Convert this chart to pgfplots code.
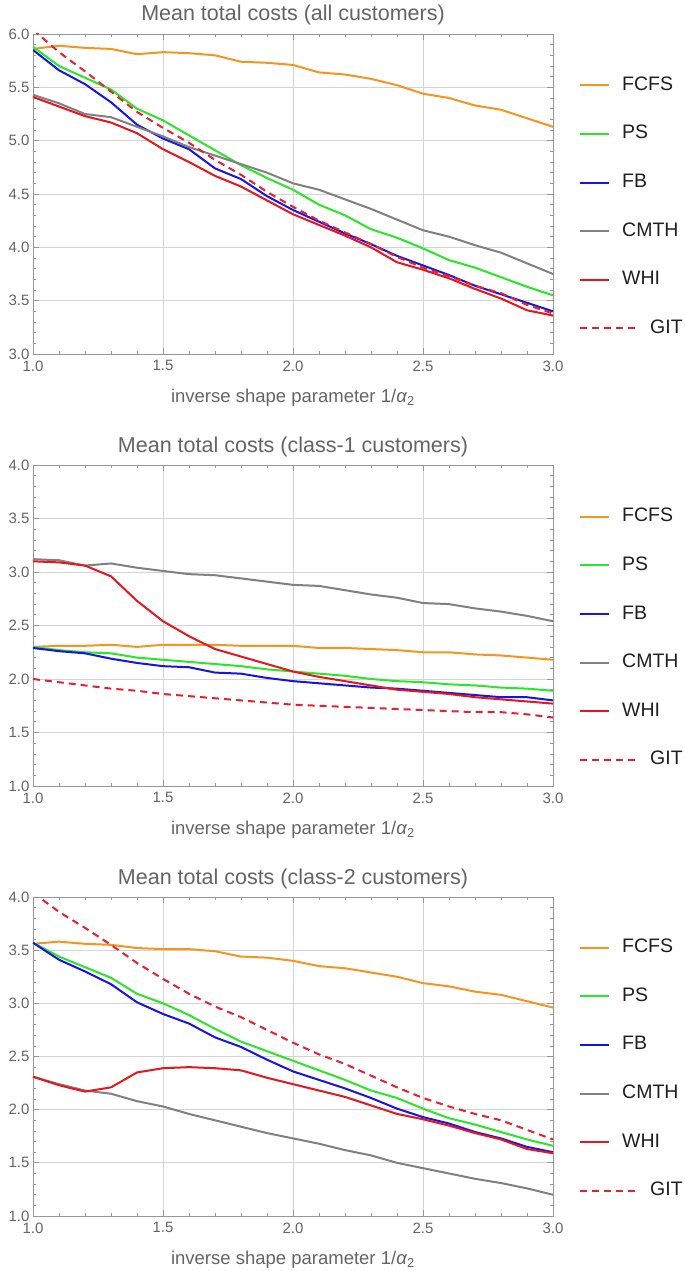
\documentclass[border=0pt]{standalone}
\usepackage{fontspec}
\setmainfont{Liberation Sans}
\usepackage{pgfplots}
\usepackage{pgfplotstable}
\pgfplotsset{compat=1.18}

\definecolor{cFCFS}{RGB}{247,148,30}
\definecolor{cPS}{RGB}{40,230,40}
\definecolor{cFB}{RGB}{20,20,230}
\definecolor{cCMTH}{RGB}{128,128,128}
\definecolor{cWHI}{RGB}{232,20,30}
\definecolor{cGIT}{RGB}{232,30,50}
\definecolor{frame}{RGB}{150,150,150}
\definecolor{gridc}{RGB}{212,212,212}
\definecolor{labc}{RGB}{100,100,100}

% x  FCFS  PS  FB  CMTH  WHI  GIT
\pgfplotstableread{
x   fcfs ps   fb   cmth whi  git
1.0 5.86 5.88 5.85 5.43 5.41 6.04
1.1 5.89 5.70 5.66 5.35 5.32 5.83
1.2 5.87 5.59 5.53 5.25 5.23 5.65
1.3 5.86 5.48 5.36 5.22 5.17 5.46
1.4 5.81 5.30 5.15 5.13 5.07 5.27
1.5 5.83 5.19 5.02 5.04 4.92 5.12
1.6 5.82 5.05 4.92 4.94 4.80 4.98
1.7 5.80 4.91 4.74 4.86 4.67 4.82
1.8 5.74 4.77 4.64 4.78 4.57 4.68
1.9 5.73 4.65 4.48 4.70 4.44 4.52
2.0 5.71 4.54 4.35 4.60 4.31 4.38
2.1 5.64 4.40 4.24 4.54 4.21 4.25
2.2 5.62 4.30 4.13 4.45 4.11 4.14
2.3 5.58 4.17 4.03 4.36 4.00 4.03
2.4 5.52 4.09 3.92 4.26 3.86 3.91
2.5 5.44 3.99 3.83 4.16 3.79 3.81
2.6 5.40 3.88 3.74 4.10 3.71 3.73
2.7 5.33 3.81 3.64 4.02 3.61 3.64
2.8 5.29 3.72 3.56 3.95 3.52 3.57
2.9 5.21 3.63 3.48 3.85 3.41 3.46
3.0 5.13 3.55 3.40 3.75 3.36 3.38
}\tabAll

\pgfplotstableread{
x   fcfs ps   fb   cmth whi  git
1.0 2.30 2.30 2.29 3.12 3.10 2.00
1.1 2.31 2.27 2.26 3.11 3.09 1.97
1.2 2.31 2.25 2.24 3.06 3.06 1.94
1.3 2.32 2.24 2.19 3.08 2.96 1.91
1.4 2.30 2.20 2.15 3.04 2.73 1.89
1.5 2.32 2.18 2.12 3.01 2.54 1.86
1.6 2.32 2.16 2.11 2.98 2.40 1.84
1.7 2.32 2.14 2.06 2.97 2.28 1.82
1.8 2.31 2.12 2.05 2.94 2.21 1.80
1.9 2.31 2.09 2.01 2.91 2.14 1.78
2.0 2.31 2.07 1.98 2.88 2.07 1.76
2.1 2.29 2.05 1.96 2.87 2.02 1.75
2.2 2.29 2.03 1.94 2.83 1.98 1.74
2.3 2.28 2.00 1.92 2.79 1.94 1.73
2.4 2.27 1.98 1.91 2.76 1.90 1.72
2.5 2.25 1.97 1.89 2.71 1.88 1.71
2.6 2.25 1.95 1.87 2.70 1.86 1.70
2.7 2.23 1.94 1.85 2.66 1.83 1.69
2.8 2.22 1.92 1.83 2.63 1.81 1.69
2.9 2.20 1.91 1.83 2.59 1.79 1.67
3.0 2.18 1.89 1.80 2.54 1.77 1.64
}\tabOne

\pgfplotstableread{
x   fcfs ps   fb   cmth whi  git
1.0 3.56 3.57 3.57 2.31 2.31 4.04
1.1 3.58 3.44 3.41 2.24 2.23 3.86
1.2 3.56 3.34 3.30 2.18 2.17 3.71
1.3 3.55 3.24 3.18 2.15 2.21 3.55
1.4 3.52 3.09 3.01 2.08 2.35 3.38
1.5 3.51 3.00 2.90 2.03 2.39 3.23
1.6 3.51 2.89 2.81 1.96 2.40 3.09
1.7 3.49 2.76 2.68 1.90 2.39 2.97
1.8 3.44 2.64 2.59 1.84 2.37 2.87
1.9 3.43 2.55 2.47 1.78 2.30 2.75
2.0 3.40 2.46 2.36 1.73 2.24 2.63
2.1 3.35 2.37 2.28 1.68 2.18 2.52
2.2 3.33 2.28 2.20 1.62 2.12 2.43
2.3 3.29 2.18 2.11 1.57 2.04 2.32
2.4 3.25 2.11 2.01 1.50 1.96 2.21
2.5 3.19 2.01 1.93 1.45 1.91 2.11
2.6 3.16 1.92 1.87 1.40 1.85 2.03
2.7 3.11 1.86 1.79 1.35 1.78 1.96
2.8 3.08 1.79 1.73 1.31 1.72 1.90
2.9 3.02 1.72 1.65 1.26 1.63 1.81
3.0 2.96 1.66 1.60 1.20 1.59 1.72
}\tabTwo

\pgfplotsset{
  mma/.style={
    scale only axis,
    width=520pt,
    anchor=south west,
    xmin=1, xmax=3,
    xtick={1,1.5,...,3},
    minor x tick num=4,
    minor y tick num=4,
    tick pos=both,
    tick align=inside,
    major tick length=6pt,
    minor tick length=3pt,
    axis line style={frame, line width=0.9pt},
    tick style={frame, line width=0.7pt},
    grid=major,
    major grid style={gridc, line width=0.7pt},
    /pgf/number format/assume math mode=true,
    /pgf/number format/.cd, fixed, fixed zerofill, precision=1, /pgfplots/.cd,
    ticklabel style={font=\fontsize{15}{15}\selectfont, text=labc},
    xticklabel style={yshift=-3pt},
    title style={at={(0.5,1)}, anchor=base, yshift=7pt,
                 font=\fontsize{21.5}{24}\selectfont, text=labc},
    xlabel={inverse shape parameter 1/\textit{α}\textsubscript{2}},
    xlabel style={at={(axis description cs:0.5,0)}, anchor=base, yshift=-48pt,
                  font=\fontsize{18.5}{20}\selectfont, text=labc},
    every axis plot/.append style={line width=2pt, line join=round},
    legend image code/.code={\draw[#1] (0pt,0pt) -- (29pt,0pt);},
    legend style={at={(1.05,0.46)}, anchor=west, draw=none, fill=none,
                  inner sep=0pt, row sep=30.6pt, column sep=12pt,
                  font=\fontsize{19.5}{22}\selectfont, text=black!88,
                  nodes={inner sep=0pt, text height=14pt, text depth=4pt},
                  cells={anchor=west}},
  },
  gitleg/.style={legend image code/.code={%
      \draw[##1,overlay] (0pt,0pt) -- (55pt,0pt);
      \path (0pt,0pt) -- (29pt,0pt);}},
}

\newcommand{\curves}[1]{%
  \addplot[cFCFS] table[x=x,y=fcfs] {#1};
  \addplot[cPS] table[x=x,y=ps] {#1};
  \addplot[cFB] table[x=x,y=fb] {#1};
  \addplot[cCMTH] table[x=x,y=cmth] {#1};
  \addplot[cWHI] table[x=x,y=whi] {#1};
  \addplot[cGIT, dash pattern=on 7pt off 5pt, gitleg] table[x=x,y=git] {#1};
  \legend{FCFS,PS,FB,CMTH,WHI,\hspace*{28pt}GIT}
}

\begin{document}
\begin{tikzpicture}
\path[use as bounding box] (0pt,0pt) rectangle (685pt,-1271pt);

\begin{axis}[mma, at={(33pt,-354pt)}, height=320pt,
  ymin=3, ymax=6, ytick={3,3.5,...,6},
  title={Mean total costs (all customers)}]
  \curves{\tabAll}
\end{axis}

\begin{axis}[mma, at={(33pt,-786pt)}, height=321pt,
  ymin=1, ymax=4, ytick={1,1.5,...,4},
  title={Mean total costs (class-1 customers)}]
  \curves{\tabOne}
\end{axis}

\begin{axis}[mma, at={(33pt,-1216pt)}, height=319pt,
  ymin=1, ymax=4, ytick={1,1.5,...,4},
  title={Mean total costs (class-2 customers)}]
  \curves{\tabTwo}
\end{axis}
\end{tikzpicture}
\end{document}
